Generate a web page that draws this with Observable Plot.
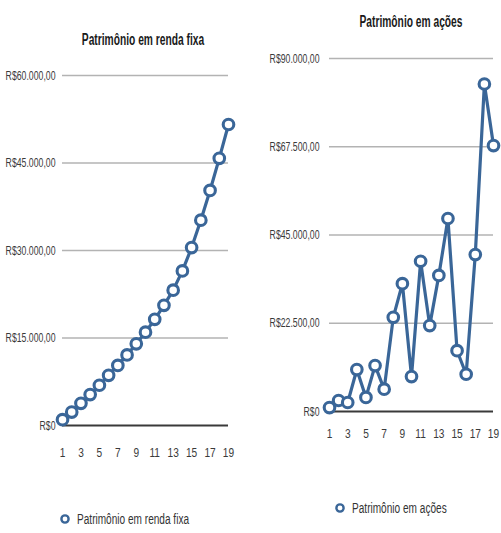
<!DOCTYPE html>
<html>
<head>
<meta charset="utf-8">
<script src="https://cdn.jsdelivr.net/npm/d3@7"></script>
<script src="https://cdn.jsdelivr.net/npm/@observablehq/plot@0.6"></script>
<style>
  html, body { margin: 0; padding: 0; background: #fff; }
  #wrap { position: relative; width: 501px; height: 533px; overflow: hidden; font-family: "Liberation Sans", Arial, sans-serif; }
  .chart { position: absolute; top: 0; }
  .chart svg { overflow: visible; }
  .title { position: absolute; font-size: 16px; font-weight: bold; color: #1a1a1a; white-space: nowrap; line-height: 1; transform: translate(-50%, -50%) scaleX(0.64); }
  .legtext { position: absolute; font-size: 14px; color: #333; white-space: nowrap; line-height: 1; transform-origin: 0 50%; transform: translateY(-50%) scaleX(0.72); }
  #overlay { position: absolute; left: 0; top: 0; }
</style>
</head>
<body>
<div id="wrap"></div>
<script>
// ---- data ----
const years = [1,2,3,4,5,6,7,8,9,10,11,12,13,14,15,16,17,18,19];
const rendaFixa = [1000,2300,3800,5300,6900,8600,10300,12100,14000,16000,18200,20600,23200,26500,30500,35200,40300,45800,51600];
const acoes = [1000,2800,2300,10700,3600,11700,5700,24000,32600,8900,38300,21900,34700,49200,15500,9500,40000,83500,67800];
const xTickLabels = [1,3,5,7,9,11,13,15,17,19];
const leftYTicks = [0,15000,30000,45000,60000];
const rightYTicks = [0,22500,45000,67500,90000];
const titleLeft = "Patrimônio em renda fixa";
const titleRight = "Patrimônio em ações";

const blue = "#3a6698";
const locale = d3.formatLocale({decimal: ",", thousands: ".", grouping: [3], currency: ["R$", ""]});
const money = locale.format("$,.2f");
const fmt = d => d === 0 ? "R$0" : money(d);

const wrap = document.getElementById("wrap");

function makeChart(values, yTicks, opts) {
  const data = years.map((y, i) => ({year: y, value: values[i]}));
  return Plot.plot({
    width: opts.width, height: opts.height,
    marginLeft: opts.ml, marginRight: opts.mr, marginTop: opts.mt, marginBottom: opts.mb,
    style: {fontFamily: '"Liberation Sans", Arial, sans-serif', fontSize: "13px", color: "#3a3a3a", background: "transparent"},
    x: {domain: [1, 19], ticks: xTickLabels, tickSize: 0, tickPadding: opts.xpad, label: null, tickFormat: d => String(d)},
    y: {domain: [0, yTicks[yTicks.length - 1]], ticks: yTicks, tickSize: 0, tickPadding: opts.ypad, tickFormat: fmt, label: null},
    marks: [
      Plot.ruleY(yTicks.filter(d => d > 0), {stroke: "#b3b3b3", strokeWidth: 1.6}),
      Plot.ruleY([0], {stroke: "#3a3a3a", strokeWidth: 2.2}),
      Plot.line(data, {x: "year", y: "value", stroke: blue, strokeWidth: 3.2}),
      Plot.dot(data, {x: "year", y: "value", r: 5.3, stroke: blue, strokeWidth: 3.1, fill: "white"})
    ]
  });
}

function squeeze(t, f) {
  const w = t.getComputedTextLength();
  if (w > 0) {
    t.setAttribute("textLength", (w * f).toFixed(2));
    t.setAttribute("lengthAdjust", "spacingAndGlyphs");
  }
}

function place(el, left, top) {
  const d = document.createElement("div");
  d.className = "chart";
  d.style.left = left + "px";
  d.style.top = top + "px";
  d.appendChild(el);
  wrap.appendChild(d);
  el.querySelectorAll('g[aria-label="y-axis tick label"] text').forEach(t => squeeze(t, 0.67));
  el.querySelectorAll('g[aria-label="x-axis tick label"] text').forEach(t => squeeze(t, 0.78));
}

place(makeChart(rendaFixa, leftYTicks, {width: 240, height: 470, ml: 62, mr: 12, mt: 75, mb: 45, xpad: 22, ypad: 7}), 0, 0);
place(makeChart(acoes, rightYTicks, {width: 251, height: 460, ml: 79, mr: 8, mt: 58, mb: 49, xpad: 17, ypad: 10}), 250, 0);

function addTitle(text, x, y) {
  const t = document.createElement("div");
  t.className = "title";
  t.textContent = text;
  t.style.left = x + "px";
  t.style.top = y + "px";
  wrap.appendChild(t);
}
addTitle(titleLeft, 143, 40);
addTitle(titleRight, 411, 22);

// legend markers
const ns = "http://www.w3.org/2000/svg";
const ov = document.createElementNS(ns, "svg");
ov.setAttribute("id", "overlay");
ov.setAttribute("width", 501);
ov.setAttribute("height", 533);
wrap.appendChild(ov);

function addLegend(text, cx, cy, tx) {
  const c = document.createElementNS(ns, "circle");
  c.setAttribute("cx", cx);
  c.setAttribute("cy", cy);
  c.setAttribute("r", 3.6);
  c.setAttribute("fill", "white");
  c.setAttribute("stroke", blue);
  c.setAttribute("stroke-width", 2.4);
  ov.appendChild(c);
  const s = document.createElement("div");
  s.className = "legtext";
  s.textContent = text;
  s.style.left = tx + "px";
  s.style.top = cy + "px";
  wrap.appendChild(s);
}
addLegend(titleLeft, 65, 519, 77);
addLegend(titleRight, 340, 508, 352);
</script>
</body>
</html>
